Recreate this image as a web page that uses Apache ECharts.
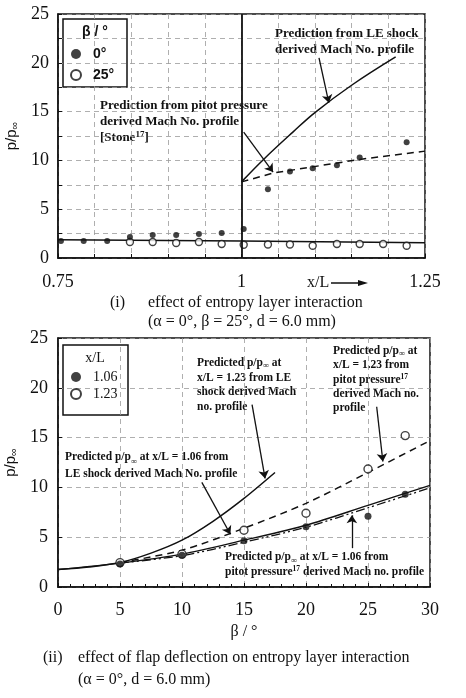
<!DOCTYPE html>
<html>
<head>
<meta charset="utf-8">
<script src="https://cdn.jsdelivr.net/npm/echarts@6/dist/echarts.min.js"></script>
<style>
  html, body { margin: 0; padding: 0; background: #fff; }
  #c { width: 466px; height: 698px; }
</style>
</head>
<body>
<div id="c"></div>
<script>
// ---------- (i) effect of entropy layer interaction ----------
// measured p/p∞ along the flap, beta = 0°
const xlBeta0 = [0.754, 0.785, 0.817, 0.848, 0.879, 0.911, 0.942, 0.973, 1.003, 1.036, 1.066, 1.097, 1.130, 1.161, 1.225];
const pBeta0  = [1.74, 1.74, 1.74, 2.15, 2.36, 2.36, 2.46, 2.56, 2.97, 7.05, 8.85, 9.2, 9.5, 10.3, 11.85];
// measured p/p∞ along the flap, beta = 25°
const xlBeta25 = [0.848, 0.879, 0.911, 0.942, 0.973, 1.003, 1.036, 1.066, 1.097, 1.130, 1.161, 1.193, 1.225];
const pBeta25  = [1.64, 1.64, 1.54, 1.64, 1.43, 1.36, 1.38, 1.38, 1.25, 1.43, 1.43, 1.43, 1.25];
// attached-flow level
const xlFlat = [0.75, 1.0, 1.25];
const pFlat  = [1.88, 1.75, 1.57];
// prediction from LE shock derived Mach number profile
const xlLE = [1.0, 1.03, 1.07, 1.10, 1.15, 1.21];
const pLE  = [7.8, 10.1, 12.9, 14.9, 17.7, 20.6];
// prediction from pitot pressure derived Mach number profile
const xlPitot = [1.0, 1.043, 1.161, 1.25];
const pPitot  = [7.8, 8.7, 10.1, 10.95];
const topXLabels = ['0.75', '1', '1.25'];
const topYLabels = [0, 5, 10, 15, 20, 25];

// ---------- (ii) effect of flap deflection ----------
const betaMeas = [5, 10, 15, 20, 25, 28];
const p106 = [2.3, 3.2, 4.65, 6.05, 7.1, 9.3];
const p123 = [2.45, 3.3, 5.7, 7.4, 11.85, 15.2];
// LE shock prediction, x/L = 1.23
const betaLE123 = [0, 2.5, 5, 7.5, 10, 12.5, 15, 17.5];
const pLE123    = [1.75, 2.0, 2.45, 3.4, 4.7, 6.6, 8.9, 11.5];
// LE shock prediction, x/L = 1.06
const betaLE106 = [0, 5, 10, 15, 20, 25, 30];
const pLE106    = [1.75, 2.4, 3.3, 4.7, 6.2, 8.2, 10.2];
// pitot pressure predictions
const betaPitot = [5, 10, 15, 20, 25, 30];
const pPit106   = [2.4, 3.15, 4.5, 6.0, 7.95, 9.95];
const pPit123   = [2.45, 3.7, 5.9, 8.4, 11.5, 14.7];

const zip = (a, b) => a.map((v, i) => [v, b[i]]);

const INK = '#111';
const SERIF = 'Liberation Serif';
const SANS = 'Liberation Sans';

function axisBase() {
  return {
    type: 'value',
    axisLine: { show: true, onZero: false, lineStyle: { color: INK, width: 1.5 } },
    axisTick: { show: true, inside: true, length: 4, lineStyle: { color: INK, width: 1 } },
    splitLine: { show: true, lineStyle: { color: '#9a9a9a', width: 0.8, type: [5, 4] } },
    axisLabel: { color: INK, fontFamily: SERIF, fontSize: 18, hideOverlap: false }
  };
}

const yName = {
  name: 'p/p{s|∞}',
  nameLocation: 'middle',
  nameRotate: 90,
  nameGap: 26,
  nameTextStyle: {
    color: INK, fontFamily: SANS, fontSize: 15,
    rich: { s: { fontFamily: SANS, fontSize: 11, color: INK, verticalAlign: 'bottom', padding: [6, 0, 0, 0] } }
  }
};

const arrowLine = {
  silent: true,
  animation: false,
  symbol: ['none', 'arrow'],
  symbolSize: 8,
  label: { show: false },
  lineStyle: { color: INK, width: 1.3, type: 'solid' },
  emphasis: { disabled: true }
};

const richSmall = (size, weight) => ({
  s: { fontFamily: SERIF, fontWeight: weight, fontSize: size - 3, fill: INK, verticalAlign: 'bottom' },
  u: { fontFamily: SERIF, fontWeight: weight, fontSize: size - 4, fill: INK, verticalAlign: 'top' }
});

function txt(x, y, text, opts) {
  const o = Object.assign({ size: 16, family: SERIF, weight: 'normal', lh: null, align: 'left' }, opts || {});
  return {
    type: 'text', x: x, y: y, silent: true,
    style: {
      text: text, fill: INK,
      fontFamily: o.family, fontSize: o.size, fontWeight: o.weight,
      lineHeight: o.lh || o.size,
      align: o.align, textAlign: o.align,
      rich: richSmall(o.size, o.weight)
    }
  };
}

const chart = echarts.init(document.getElementById('c'), null, { renderer: 'canvas' });

const option = {
  backgroundColor: '#fff',
  animation: false,
  grid: [
    { left: 58, top: 14, width: 367, height: 244, show: true, borderColor: INK, borderWidth: 1.5, containLabel: false, outerBoundsMode: 'none' },
    { left: 58, top: 338, width: 372, height: 249, show: true, borderColor: INK, borderWidth: 1.5, containLabel: false, outerBoundsMode: 'none' }
  ],
  xAxis: [
    Object.assign(axisBase(), {
      gridIndex: 0, min: 0.75, max: 1.25, interval: 0.05,
      axisLabel: Object.assign(axisBase().axisLabel, {
        margin: 15,
        formatter: v => topXLabels.find(t => Math.abs(parseFloat(t) - v) < 1e-6) || ''
      })
    }),
    Object.assign(axisBase(), {
      gridIndex: 1, min: 0, max: 30, interval: 5,
      minorTick: { show: true, splitNumber: 5, length: 3, lineStyle: { color: INK, width: 1 } },
      axisLabel: Object.assign(axisBase().axisLabel, { margin: 14 }),
      name: 'β / °', nameLocation: 'middle', nameGap: 37,
      nameTextStyle: { color: INK, fontFamily: SERIF, fontSize: 16 }
    })
  ],
  yAxis: [
    Object.assign(axisBase(), yName, {
      gridIndex: 0, min: 0, max: 25, interval: 2.5,
      axisLabel: Object.assign(axisBase().axisLabel, {
        margin: 9,
        formatter: v => topYLabels.some(t => Math.abs(t - v) < 1e-6) ? String(Math.round(v)) : ''
      })
    }),
    Object.assign(axisBase(), yName, {
      gridIndex: 1, min: 0, max: 25, interval: 5,
      axisLabel: Object.assign(axisBase().axisLabel, { margin: 10 })
    })
  ],
  legend: [
    {
      data: ['0°', '25°'], left: 70, top: 47, orient: 'vertical', padding: 0,
      itemGap: 7, itemWidth: 10, itemHeight: 10, selectedMode: false,
      textStyle: { color: INK, fontFamily: SANS, fontWeight: 'bold', fontSize: 14, lineHeight: 14, padding: [0, 0, 0, 7] }
    },
    {
      data: ['1.06', '1.23'], left: 70, top: 370, orient: 'vertical', padding: 0,
      itemGap: 3, itemWidth: 10, itemHeight: 10, selectedMode: false,
      textStyle: { color: INK, fontFamily: SERIF, fontSize: 14, lineHeight: 14, padding: [0, 0, 0, 7] }
    }
  ],
  series: [
    // ----- (i) -----
    {
      name: 'attached level', type: 'line', xAxisIndex: 0, yAxisIndex: 0,
      data: zip(xlFlat, pFlat), showSymbol: false, silent: true,
      lineStyle: { color: INK, width: 1.5 }
    },
    {
      name: 'LE shock prediction', type: 'line', xAxisIndex: 0, yAxisIndex: 0,
      data: zip(xlLE, pLE), showSymbol: false, smooth: 0.4, silent: true,
      lineStyle: { color: INK, width: 1.5 },
      markLine: Object.assign({}, arrowLine, {
        data: [
          [{ xAxis: 1, yAxis: 0, symbol: 'none' }, { xAxis: 1, yAxis: 25, symbol: 'none', lineStyle: { width: 1.8 } }],
          [{ coord: [1.1056, 20.5] }, { coord: [1.119, 15.9] }],
          [{ coord: [1.003, 12.9] }, { coord: [1.043, 8.8] }]
        ]
      })
    },
    {
      name: 'pitot prediction', type: 'line', xAxisIndex: 0, yAxisIndex: 0,
      data: zip(xlPitot, pPitot), showSymbol: false, silent: true,
      lineStyle: { color: INK, width: 1.5, type: [7, 5] }
    },
    {
      name: '25°', type: 'scatter', xAxisIndex: 0, yAxisIndex: 0, z: 4,
      data: zip(xlBeta25, pBeta25), symbol: 'circle', symbolSize: 7,
      itemStyle: { color: '#fff', borderColor: INK, borderWidth: 1.4 }
    },
    {
      name: '0°', type: 'scatter', xAxisIndex: 0, yAxisIndex: 0, z: 5,
      data: zip(xlBeta0, pBeta0), symbol: 'circle', symbolSize: 6,
      itemStyle: { color: INK }
    },
    // ----- (ii) -----
    {
      name: 'LE 1.23', type: 'line', xAxisIndex: 1, yAxisIndex: 1,
      data: zip(betaLE123, pLE123), showSymbol: false, smooth: 0.3, silent: true,
      lineStyle: { color: INK, width: 1.5 },
      markLine: Object.assign({}, arrowLine, {
        data: [
          [{ coord: [15.65, 18.3] }, { coord: [16.7, 10.9] }],
          [{ coord: [25.7, 18.1] }, { coord: [26.2, 12.6] }],
          [{ coord: [11.6, 10.5] }, { coord: [13.9, 5.3] }],
          [{ coord: [23.7, 3.9] }, { coord: [23.7, 7.2] }]
        ]
      })
    },
    {
      name: 'LE 1.06', type: 'line', xAxisIndex: 1, yAxisIndex: 1,
      data: zip(betaLE106, pLE106), showSymbol: false, smooth: 0.3, silent: true,
      lineStyle: { color: INK, width: 1.4 }
    },
    {
      name: 'pitot 1.06', type: 'line', xAxisIndex: 1, yAxisIndex: 1,
      data: zip(betaPitot, pPit106), showSymbol: false, smooth: 0.3, silent: true,
      lineStyle: { color: INK, width: 1.3, type: [9, 3, 2, 3, 2, 3] }
    },
    {
      name: 'pitot 1.23', type: 'line', xAxisIndex: 1, yAxisIndex: 1,
      data: zip(betaPitot, pPit123), showSymbol: false, smooth: 0.3, silent: true,
      lineStyle: { color: INK, width: 1.5, type: [7, 5] }
    },
    {
      name: '1.23', type: 'scatter', xAxisIndex: 1, yAxisIndex: 1, z: 4,
      data: zip(betaMeas, p123), symbol: 'circle', symbolSize: 8,
      itemStyle: { color: '#fff', borderColor: INK, borderWidth: 1.4 }
    },
    {
      name: '1.06', type: 'scatter', xAxisIndex: 1, yAxisIndex: 1, z: 5,
      data: zip(betaMeas, p106), symbol: 'circle', symbolSize: 7,
      itemStyle: { color: INK }
    }
  ],
  graphic: [
    // legend frames and headings
    { type: 'rect', shape: { x: 63, y: 19, width: 64, height: 68 }, style: { fill: 'none', stroke: INK, lineWidth: 1.5 }, silent: true },
    txt(95, 25, 'β / °', { size: 14, family: SANS, weight: 'bold', align: 'center' }),
    { type: 'rect', shape: { x: 63, y: 345, width: 65, height: 70 }, style: { fill: 'none', stroke: INK, lineWidth: 1.5 }, silent: true },
    txt(95, 351, 'x/L', { size: 14, align: 'center' }),

    // (i) annotations
    txt(100, 98, 'Prediction from pitot pressure\nderived Mach No. profile\n[Stone{u|17}]', { size: 13, weight: 'bold', lh: 16 }),
    txt(275, 26, 'Prediction from LE shock\nderived Mach No. profile', { size: 13, weight: 'bold', lh: 16 }),
    txt(307, 275, 'x/L', { size: 16 }),
    { type: 'line', shape: { x1: 331, y1: 283, x2: 362, y2: 283 }, style: { stroke: INK, lineWidth: 1.5 }, silent: true },
    { type: 'polygon', shape: { points: [[368, 283], [358, 280], [358, 286]] }, style: { fill: INK }, silent: true },

    // (ii) annotations
    txt(197, 356, 'Predicted p/p{s|∞} at\nx/L = 1.23 from LE\nshock derived Mach\nno. profile', { size: 11.5, weight: 'bold', lh: 14.5 }),
    txt(333, 344, 'Predicted p/p{s|∞} at\nx/L = 1.23 from\npitot pressure{u|17}\nderived Mach no.\nprofile', { size: 11.5, weight: 'bold', lh: 14.3 }),
    txt(65, 449, 'Predicted p/p{s|∞} at x/L = 1.06 from\nLE shock derived Mach No. profile', { size: 11.5, weight: 'bold', lh: 17 }),
    txt(225, 550, 'Predicted p/p{s|∞} at x/L = 1.06 from\npitot pressure{u|17} derived Mach no. profile', { size: 11.5, weight: 'bold', lh: 15 }),

    // captions
    txt(110, 295, '(i)', { size: 16 }),
    txt(148, 295, 'effect of entropy layer interaction', { size: 16 }),
    txt(148, 314, '(α = 0°, β = 25°, d = 6.0 mm)', { size: 16 }),
    txt(43, 650, '(ii)', { size: 16 }),
    txt(78, 650, 'effect of flap deflection on entropy layer interaction', { size: 16 }),
    txt(78, 672, '(α = 0°, d = 6.0 mm)', { size: 16 })
  ]
};

chart.setOption(option);
</script>
</body>
</html>
